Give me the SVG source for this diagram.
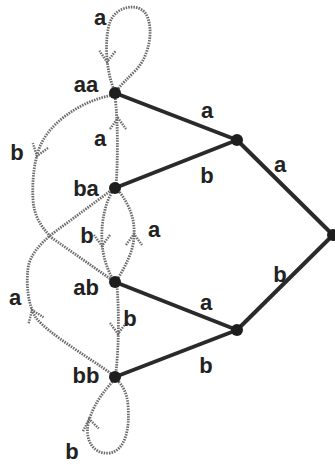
<svg xmlns="http://www.w3.org/2000/svg" xmlns:xlink="http://www.w3.org/1999/xlink" width="335" height="465" viewBox="0 0 335 465">
<style>
.dot{fill:none;stroke:#6a6a6a;stroke-width:2.8;stroke-dasharray:1.5 1.1}
.arr{fill:none;stroke:#6a6a6a;stroke-width:2.4;stroke-dasharray:1.5 1.1}
.edge{stroke:#2a2a2a;stroke-width:4;stroke-linecap:round}
.node{fill:#1e1e1e}
text{font-family:"Liberation Sans",Arial,sans-serif;font-size:22px;font-weight:bold;fill:#222;text-anchor:middle}
</style>
<defs>
<path id="ah" d="M-11,-8 L0,0 L-11,8"/>
</defs>
<rect width="335" height="465" fill="#fff"/>
<g id="connectors">
<line class="edge" x1="115" y1="93" x2="237" y2="140"/>
<line class="edge" x1="115" y1="188" x2="237" y2="140"/>
<line class="edge" x1="237" y1="140" x2="333" y2="235"/>
<line class="edge" x1="115" y1="282" x2="237" y2="330"/>
<line class="edge" x1="115" y1="377" x2="237" y2="330"/>
<line class="edge" x1="237" y1="330" x2="333" y2="235"/>
<path class="dot" d="M114,90 C106,70 104,40 110,22 C116,6 138,2 146,14 C154,28 150,55 136,70 C128,78 122,84 117,90"/>
<use class="arr" xlink:href="#ah" transform="translate(107,62) rotate(92)"/>
<path class="dot" d="M113,95 C85,100 55,118 42,142 C34,158 32,180 33,200 C34,215 40,226 52,238 L112,280"/>
<use class="arr" xlink:href="#ah" transform="translate(37,156) rotate(108)"/>
<path class="dot" d="M113,375 C90,358 50,335 36,318 C28,305 26,285 28,268 C30,255 40,244 52,234 L113,189"/>
<use class="arr" xlink:href="#ah" transform="translate(32,310) rotate(-112)"/>
<path class="dot" d="M116,186 C118,160 118,120 115,96"/>
<use class="arr" xlink:href="#ah" transform="translate(118,118) rotate(-90)"/>
<path class="dot" d="M113,190 C104,205 101,225 102,242 C103,258 107,268 113,280"/>
<use class="arr" xlink:href="#ah" transform="translate(102,246) rotate(90)"/>
<path class="dot" d="M117,280 C126,265 134,250 134,235 C135,220 130,205 118,190"/>
<use class="arr" xlink:href="#ah" transform="translate(134,234) rotate(-90)"/>
<path class="dot" d="M117,286 C119,310 119,345 116,372"/>
<use class="arr" xlink:href="#ah" transform="translate(118,334) rotate(90)"/>
<path class="dot" d="M114,380 C105,390 92,405 88,425 C85,442 95,455 110,453 C125,450 130,430 128,405 C127,392 122,385 117,380"/>
<use class="arr" xlink:href="#ah" transform="translate(89,419) rotate(-100)"/>
</g>
<g id="n-aa"><circle class="node" cx="115" cy="93" r="6"/><text x="86" y="92">aa</text></g>
<g id="n-ba"><circle class="node" cx="115" cy="188" r="6"/><text x="86" y="196">ba</text></g>
<g id="n-ab"><circle class="node" cx="115" cy="282" r="6"/><text x="86" y="295">ab</text></g>
<g id="n-bb"><circle class="node" cx="115" cy="377" r="6"/><text x="86" y="383">bb</text></g>
<g id="n-r1"><circle class="node" cx="237" cy="140" r="6"/></g>
<g id="n-r2"><circle class="node" cx="237" cy="330" r="6"/></g>
<g id="n-root"><circle class="node" cx="333" cy="235" r="6"/></g>
<g id="labels">
<text x="100" y="25">a</text>
<text x="100" y="146">a</text>
<text x="17" y="160">b</text>
<text x="87" y="243">b</text>
<text x="154" y="237">a</text>
<text x="15" y="305">a</text>
<text x="130" y="326">b</text>
<text x="72" y="459">b</text>
<text x="207" y="118">a</text>
<text x="207" y="183">b</text>
<text x="280" y="172">a</text>
<text x="280" y="282">b</text>
<text x="206" y="310">a</text>
<text x="206" y="373">b</text>
</g>
</svg>
